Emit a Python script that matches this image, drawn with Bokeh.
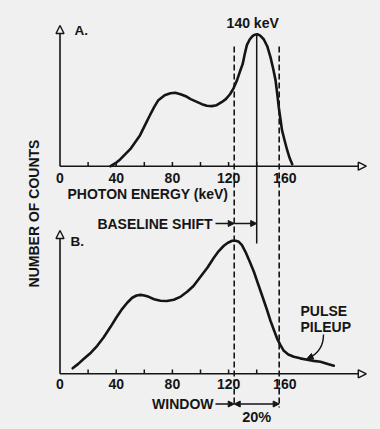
import math
from bokeh.plotting import figure
from bokeh.models import Range1d, Arrow, NormalHead
from bokeh.embed import file_html
from bokeh.resources import INLINE
from bokeh.core.properties import value

# ---------------- data ----------------
# Panel A: undistorted spectrum (relative counts, photopeak = 100)
energy_a = [36, 39.5, 43, 46.5, 50, 53.5, 57, 60.5, 64, 67, 70, 74.5, 78.6, 82, 85.8,
            89.5, 93, 97, 101, 104.5, 108, 111.5, 115, 118, 121, 123.5, 126, 128, 130,
            131.5, 133, 135, 137, 138.5, 140.4, 142.5, 145, 147.5, 149.8, 151.7, 153.4,
            154.6, 155.7, 157, 158, 160, 161.7, 163.5, 165.3]
counts_a = [0, 2.3, 5.3, 9.1, 12.9, 18.2, 23.5, 31.1, 38.6, 44.7, 50, 53.8, 55.3, 55.7, 54.5,
            53, 50.8, 48.9, 47, 45.8, 45.5, 46.2, 48.5, 50.8, 54.5, 59, 65.2, 71.5, 77.3,
            85, 91.7, 96, 98.5, 99.6, 100, 98.9, 96.2, 90.9, 82.6, 74, 65.2,
            55, 44.7, 35, 27.3, 18.9, 12.1, 6, 1.5]

# Panel B: spectrum with baseline shift and pulse pileup
energy_b = [9, 13, 17, 22, 26.5, 31, 36, 40, 44.3, 48, 51.4, 54.5, 57.3, 60, 63.2, 67, 71.5,
            76, 81, 86, 90.5, 95, 100, 105, 109.5, 113, 116.6, 119.5, 122.6, 125, 127.3,
            129.5, 132, 135, 138, 141, 143.9, 147, 149.8, 152.3, 154.6, 157, 159.3, 162.5,
            166.4, 171, 175.9, 180.5, 185.4, 190, 194.9]
counts_b = [4.2, 7.5, 11.4, 16, 21.2, 27.5, 35.6, 42.5, 49.2, 54, 57.6, 59.3, 59.8, 59.3, 58.3,
            56.5, 55.3, 55.2, 56.1, 58.5, 62.1, 66.5, 73.5, 80.5, 87.9, 93, 97, 99.3, 100.8,
            100.8, 100, 97.5, 92.4, 85, 77.3, 68, 59.1, 49.5, 40.2, 33, 26.5, 21.5, 17.4, 14.6,
            12.9, 11.7, 10.6, 9.8, 9.1, 7.6, 6.1]

tick_marks = [20, 40, 60, 80, 100, 120, 140]
tick_values = [0, 40, 80, 120, 160]
tick_labels = ["0", "40", "80", "120", "160"]

photopeak = 140      # keV
window_lo = 124      # keV (20% window)
window_hi = 156

# ---------------- layout / style ----------------
INK = "#151515"
BG = "#f0f0f0"
FONT = "Liberation Sans"
W, H = 380, 429
M = 0                      # bokeh's page template has no body margin
KEV_PX = 1.405             # pixels per keV
ZERO_X = 59.5              # page x of 0 keV
UNIT_PX = 1.32             # pixels per count unit
BASE_A = 165.7             # page y of panel A baseline
BASE_B = 373.3             # page y of panel B baseline
X_TIP = 218                # keV where x-axis arrows end
Y_TIP = {"A": 106.6, "B": 108.6}


def kx(px):
    return (px - ZERO_X) / KEV_PX


p = figure(width=W, height=H, output_backend="svg", toolbar_location=None,
           min_border=0, x_axis_location=None, y_axis_location=None,
           x_range=Range1d(kx(M), kx(M + W)),
           y_range=Range1d(M + H, M))          # page-pixel y (downwards)
p.grid.visible = False
p.outline_line_color = None
p.background_fill_color = BG
p.border_fill_color = BG

p.extra_y_ranges = {
    "A": Range1d((BASE_A - (M + H)) / UNIT_PX, (BASE_A - M) / UNIT_PX),
    "B": Range1d((BASE_B - (M + H)) / UNIT_PX, (BASE_B - M) / UNIT_PX),
}

# axes with open arrow heads
for name in ("A", "B"):
    for xe, ye in ((0, Y_TIP[name]), (X_TIP, 0)):
        p.add_layout(Arrow(end=NormalHead(size=8, fill_color=BG, line_color=INK, line_width=1.4),
                           x_start=0, y_start=0, x_end=xe, y_end=ye, y_range_name=name,
                           line_color=INK, line_width=1.6))
    p.segment(x0=tick_marks, y0=[0] * len(tick_marks), x1=tick_marks,
              y1=[3.2] * len(tick_marks), y_range_name=name, line_color=INK, line_width=1.5)

# curves
p.line(energy_a, counts_a, y_range_name="A", line_color=INK, line_width=2.6,
       line_join="round", line_cap="round")
p.line(energy_b, counts_b, y_range_name="B", line_color=INK, line_width=2.6,
       line_join="round", line_cap="round")

# window (dashed) and photopeak (solid) lines
p.segment(x0=[window_lo, window_hi], y0=[46, 46], x1=[window_lo, window_hi], y1=[406, 407],
          line_color=INK, line_width=1.6, line_dash="6 3")
p.segment(x0=[photopeak], y0=[34], x1=[photopeak], y1=[243], line_color=INK, line_width=1.5)

# small arrows
def small_head():
    return NormalHead(size=6, fill_color=INK, line_color=INK, line_width=1)

p.add_layout(Arrow(end=small_head(), x_start=kx(215), y_start=223, x_end=window_lo, y_end=223,
                   line_color=INK, line_width=1.3))
p.add_layout(Arrow(end=small_head(), x_start=window_lo, y_start=223, x_end=photopeak, y_end=223,
                   line_color=INK, line_width=1.3))
p.add_layout(Arrow(end=small_head(), x_start=kx(215), y_start=403.5, x_end=window_lo, y_end=403.5,
                   line_color=INK, line_width=1.3))
p.add_layout(Arrow(start=small_head(), end=small_head(), x_start=window_lo, y_start=403.5,
                   x_end=window_hi, y_end=403.5, line_color=INK, line_width=1.3))

# pulse pileup pointer
p.bezier(x0=[kx(323)], y0=[334], x1=[kx(308)], y1=[357.5], cx0=[kx(323)], cy0=[347],
         cx1=[kx(316)], cy1=[354], line_color=INK, line_width=1.4)
p.add_layout(Arrow(end=small_head(), x_start=kx(311), y_start=356.2, x_end=kx(306.5),
                   y_end=358, line_color=INK, line_width=1.4))

# texts
def txt(x, y, s, align="left", size="14px", angle=0.0, x_offset=0):
    p.text(x=[x], y=[y], text=[s], text_align=align, text_baseline="middle",
           text_font=value(FONT), text_font_size=size, text_font_style="bold",
           text_color=INK, angle=angle, x_offset=x_offset)

for ty in (177.5, 383):
    p.text(x=tick_values, y=[ty] * len(tick_values), text=tick_labels, text_align="center",
           text_baseline="middle", text_font=value(FONT), text_font_size="14px",
           text_font_style="bold", text_color=INK)

txt(kx(74), 29.5, "A.", size="13.5px")
txt(kx(70), 240.5, "B.", size="13.5px")
txt(photopeak, 22, "140 keV", align="center", x_offset=-4)
txt(kx(67), 193, "PHOTON ENERGY (keV)")
txt(kx(33), 213, "NUMBER OF COUNTS", align="center", size="14px", angle=math.pi / 2)
txt(kx(212), 223, "BASELINE SHIFT", align="right")
txt(kx(213), 403.5, "WINDOW", align="right")
txt((window_lo + window_hi) / 2, 416, "20%", align="center", size="14.5px")
txt(kx(300), 310.5, "PULSE")
txt(kx(300), 326, "PILEUP")

html = file_html(p, INLINE)
html = html.replace("<head>", "<head><style>html,body{background:#f0f0f0;}</style>", 1)
open("out.html", "w").write(html)
